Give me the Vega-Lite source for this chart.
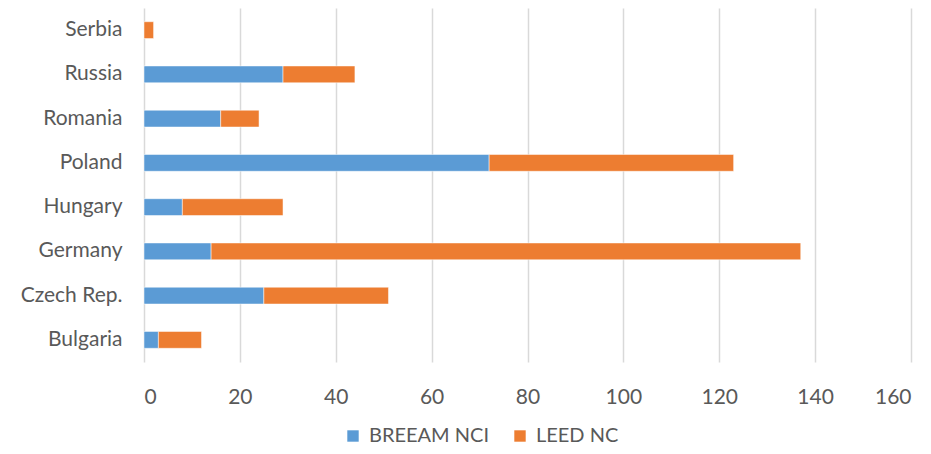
{
  "$schema": "https://vega.github.io/schema/vega-lite/v6.json",
  "autosize": "none",
  "width": 767,
  "height": 354,
  "padding": {"left": 144, "top": 8, "right": 20, "bottom": 92},
  "background": "white",
  "data": {
    "values": [
      {"country": "Serbia", "type": "BREEAM NCI", "ord": 1, "value": 0},
      {"country": "Serbia", "type": "LEED NC", "ord": 2, "value": 2},
      {"country": "Russia", "type": "BREEAM NCI", "ord": 1, "value": 29},
      {"country": "Russia", "type": "LEED NC", "ord": 2, "value": 15},
      {"country": "Romania", "type": "BREEAM NCI", "ord": 1, "value": 16},
      {"country": "Romania", "type": "LEED NC", "ord": 2, "value": 8},
      {"country": "Poland", "type": "BREEAM NCI", "ord": 1, "value": 72},
      {"country": "Poland", "type": "LEED NC", "ord": 2, "value": 51},
      {"country": "Hungary", "type": "BREEAM NCI", "ord": 1, "value": 8},
      {"country": "Hungary", "type": "LEED NC", "ord": 2, "value": 21},
      {"country": "Germany", "type": "BREEAM NCI", "ord": 1, "value": 14},
      {"country": "Germany", "type": "LEED NC", "ord": 2, "value": 123},
      {"country": "Czech Rep.", "type": "BREEAM NCI", "ord": 1, "value": 25},
      {"country": "Czech Rep.", "type": "LEED NC", "ord": 2, "value": 26},
      {"country": "Bulgaria", "type": "BREEAM NCI", "ord": 1, "value": 3},
      {"country": "Bulgaria", "type": "LEED NC", "ord": 2, "value": 9}
    ]
  },
  "mark": {"type": "bar", "stroke": "white", "strokeWidth": 0.5},
  "encoding": {
    "y": {
      "field": "country",
      "type": "nominal",
      "sort": ["Serbia", "Russia", "Romania", "Poland", "Hungary", "Germany", "Czech Rep.", "Bulgaria"],
      "scale": {"paddingInner": 0.62, "paddingOuter": 0.31},
      "axis": {
        "title": null,
        "domain": false,
        "ticks": false,
        "labelPadding": 22,
        "labelFont": "Lato",
        "labelFontSize": 21,
        "labelColor": "#595959"
      }
    },
    "x": {
      "field": "value",
      "type": "quantitative",
      "stack": "zero",
      "scale": {"domain": [0, 160], "nice": false},
      "axis": {
        "title": null,
        "values": [0, 20, 40, 60, 80, 100, 120, 140, 160],
        "domain": false,
        "ticks": false,
        "labelPadding": 24,
        "labelFont": "Lato",
        "labelFontSize": 21,
        "labelColor": "#595959",
        "gridColor": "#d9d9d9",
        "gridWidth": 1.5
      }
    },
    "color": {
      "field": "type",
      "type": "nominal",
      "scale": {"domain": ["BREEAM NCI", "LEED NC"], "range": ["#5B9BD5", "#ED7D31"]},
      "legend": {
        "title": null,
        "orient": "none",
        "direction": "horizontal",
        "legendX": 199,
        "legendY": 418,
        "symbolType": "square",
        "symbolSize": 130,
        "symbolStrokeWidth": 0,
        "labelFont": "Lato",
        "labelFontSize": 20,
        "labelColor": "#595959",
        "columnPadding": 20,
        "labelOffset": 6
      }
    },
    "order": {"field": "ord", "type": "quantitative"}
  },
  "config": {"view": {"stroke": null}}
}
